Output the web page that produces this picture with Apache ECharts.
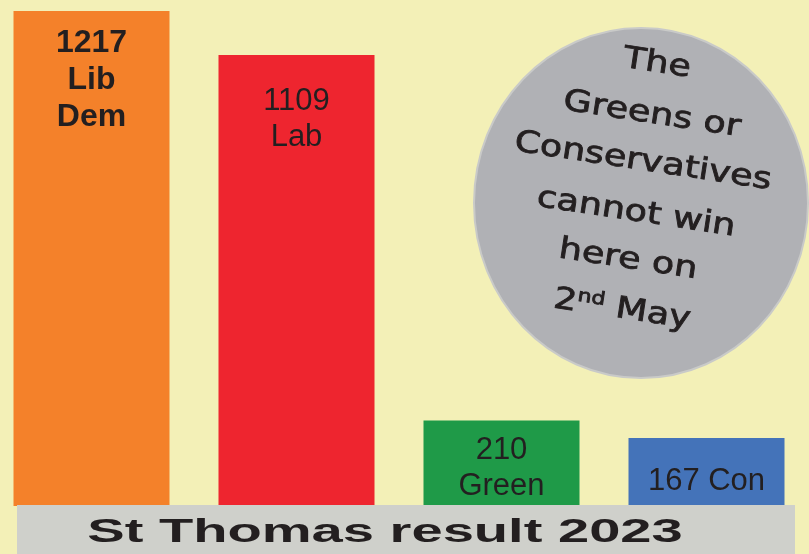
<!DOCTYPE html>
<html><head><meta charset="utf-8">
<script src="https://cdn.jsdelivr.net/npm/echarts@6/dist/echarts.min.js"></script>
<style>html,body{margin:0;padding:0;background:#f3f0b7}#c{width:809px;height:554px}</style>
</head><body><div id="c"></div>
<script>
const categories = ['Lib Dem', 'Lab', 'Green', 'Con'];
const values = [1217, 1109, 210, 167];
const partyLabels = ['Lib\nDem', 'Lab', 'Green', 'Con'];
const labelJoin = ['\n', '\n', '\n', ' '];
const title = 'St Thomas result 2023';
const bubbleLines = ['The', 'Greens or', 'Conservatives', 'cannot win', 'here on', '2{sup|nd} May'];

const colors = ['#f4812a', '#ee252f', '#1f9a48', '#4473b9'];
const labelDistance = [14, 29, 12, 25];
const bubbleCentres = [[657,64],[652,115],[643,162],[636,213],[628,260],[622,310]];

const chart = echarts.init(document.getElementById('c'));
const data = values.map((v, i) => ({
  value: v,
  itemStyle: { color: colors[i] },
  label: Object.assign({ distance: labelDistance[i] },
    i === 0 ? { fontWeight: 'bold', fontSize: 32, lineHeight: 37 } : { fontWeight: 'normal', fontSize: 31, lineHeight: 36 })
}));

const bubbleText = bubbleLines.map((t, i) => ({
  type: 'text', x: bubbleCentres[i][0], y: bubbleCentres[i][1], rotation: -0.15, z: 110, scaleX: 1.22,
  style: {
    text: t, fill: '#231f20', font: '30px "DejaVu Sans"', align: 'center', verticalAlign: 'middle',
    stroke: '#231f20', lineWidth: 0.8,
    rich: { sup: { fontSize: 18, verticalAlign: 'top', padding: [0,0,14,0], fill: '#231f20', fontFamily: 'DejaVu Sans' } }
  }
}));

chart.setOption({
  backgroundColor: '#f3f0b7',
  animation: false,
  grid: { left: -11, width: 820, top: 11, bottom: 48, outerBoundsMode: 'none', containLabel: false },
  xAxis: { type: 'category', data: categories, show: false },
  yAxis: { type: 'value', min: 0, max: 1217, show: false, splitLine: { show: false } },
  series: [{
    type: 'bar', data: data, barWidth: 156,
    label: {
      show: true, position: 'insideTop', color: '#231f20',
      fontFamily: 'Liberation Sans, Arial, sans-serif',
      formatter: p => values[p.dataIndex] + labelJoin[p.dataIndex] + partyLabels[p.dataIndex]
    }
  }],
  graphic: [
    { type: 'rect', z: 100, shape: { x: 17, y: 505, width: 778, height: 49 }, style: { fill: '#cfd0cb' } },
    { type: 'text', z: 101, x: 385, y: 533, scaleX: 1.7,
      style: { text: title, fill: '#231f20', font: 'bold 33px "Liberation Sans"', align: 'center', verticalAlign: 'middle' } },
    { type: 'ellipse', z: 105, shape: { cx: 641, cy: 203, rx: 167, ry: 175 }, style: { fill: '#b0b1b5', stroke: '#c9cac8', lineWidth: 2 } }
  ].concat(bubbleText)
});
</script></body></html>
